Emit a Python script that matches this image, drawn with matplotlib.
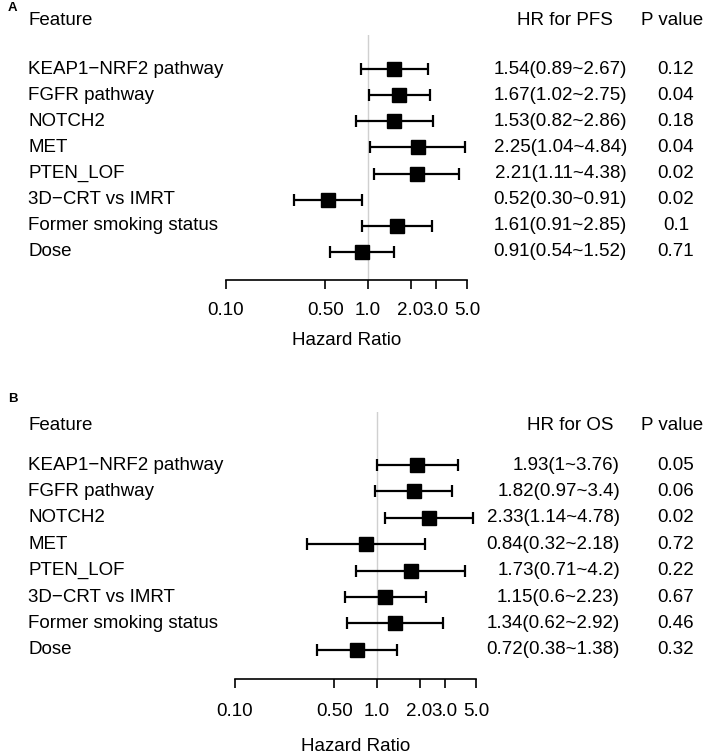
import matplotlib.pyplot as plt
from matplotlib.transforms import blended_transform_factory

plt.rcParams['font.family'] = ['Liberation Sans', 'DejaVu Sans']

# Datos
features = ['KEAP1\u2212NRF2 pathway', 'FGFR pathway', 'NOTCH2', 'MET', 'PTEN_LOF',
            '3D\u2212CRT vs IMRT', 'Former smoking status', 'Dose']

hr_pfs = [1.54, 1.67, 1.53, 2.25, 2.21, 0.52, 1.61, 0.91]
lo_pfs = [0.89, 1.02, 0.82, 1.04, 1.11, 0.30, 0.91, 0.54]
hi_pfs = [2.67, 2.75, 2.86, 4.84, 4.38, 0.91, 2.85, 1.52]
p_pfs = ['0.12', '0.04', '0.18', '0.04', '0.02', '0.02', '0.1', '0.71']

hr_os = [1.93, 1.82, 2.33, 0.84, 1.73, 1.15, 1.34, 0.72]
lo_os = [1, 0.97, 1.14, 0.32, 0.71, 0.6, 0.62, 0.38]
hi_os = [3.76, 3.4, 4.78, 2.18, 4.2, 2.23, 2.92, 1.38]
p_os = ['0.05', '0.06', '0.02', '0.72', '0.22', '0.67', '0.46', '0.32']

ticks = [0.1, 0.5, 1.0, 2.0, 3.0, 5.0]
tick_labels = ['0.10', '0.50', '1.0', '2.0', '3.0', '5.0']

W, H = 708, 754
fig = plt.figure(figsize=(W / 100, H / 100), dpi=100)
FS = 13.5


def panel(letter, x0, y_top, y_row0, step, y_axis, y_head, y_letter, hr_x, head_x, head,
          hr, lo, hi, hr_txt, pv, tickpad, labpad):
    n = len(features)
    ax = fig.add_axes([x0 / W, 1 - y_axis / H, 241 / W, (y_axis - y_top) / H])
    ax.set_xscale('log')
    ax.set_xlim(0.1, 5.0)
    ax.set_ylim((y_axis - y_row0) / step, (y_top - y_row0) / step)
    rows = list(range(n))
    ax.axvline(1, color='#d0d0d0', lw=1, zorder=0)
    err = [[h - l for h, l in zip(hr, lo)], [u - h for h, u in zip(hr, hi)]]
    ax.errorbar(hr, rows, xerr=err, fmt='s', color='black', ms=9.5, elinewidth=1.6,
                capsize=4.5, capthick=1.6)
    for s in ['top', 'left', 'right']:
        ax.spines[s].set_visible(False)
    ax.spines['bottom'].set_linewidth(1.2)
    ax.set_yticks([])
    ax.set_xticks(ticks)
    ax.set_xticklabels(tick_labels)
    ax.minorticks_off()
    ax.tick_params(axis='x', length=6.5, width=1.2, labelsize=FS, pad=tickpad)
    ax.set_xlabel('Hazard Ratio', fontsize=FS, labelpad=labpad)

    tr = blended_transform_factory(fig.transFigure, ax.transData)
    yh = (y_head - y_row0) / step
    ax.text(28 / W, yh, 'Feature', transform=tr, fontsize=FS, va='center', clip_on=False)
    ax.text(head_x / W, yh, head, transform=tr, fontsize=FS, va='center', ha='center', clip_on=False)
    ax.text(672 / W, yh, 'P value', transform=tr, fontsize=FS, va='center', ha='center', clip_on=False)
    for i in rows:
        ax.text(28 / W, i, features[i], transform=tr, fontsize=FS, va='center', clip_on=False)
        ax.text(hr_x / W, i, hr_txt[i], transform=tr, fontsize=FS, va='center', ha='right', clip_on=False)
        ax.text(676 / W, i, pv[i], transform=tr, fontsize=FS, va='center', ha='center', clip_on=False)
    fig.text(8 / W, 1 - y_letter / H, letter, fontsize=9.5, fontweight='bold', va='center')


txt_pfs = ['%.2f(%.2f~%.2f)' % (h, l, u) for h, l, u in zip(hr_pfs, lo_pfs, hi_pfs)]
txt_os = ['%g(%g~%g)' % (h, l, u) for h, l, u in zip(hr_os, lo_os, hi_os)]

panel('A', 226, 35, 69, 26.14, 280, 20, 8, 627, 565, 'HR for PFS',
      hr_pfs, lo_pfs, hi_pfs, txt_pfs, p_pfs, 9, 10)
panel('B', 235, 412, 465, 26.4, 679, 425, 399, 620, 570, 'HR for OS',
      hr_os, lo_os, hi_os, txt_os, p_os, 11, 13)

fig.savefig('out.png', dpi=100)
